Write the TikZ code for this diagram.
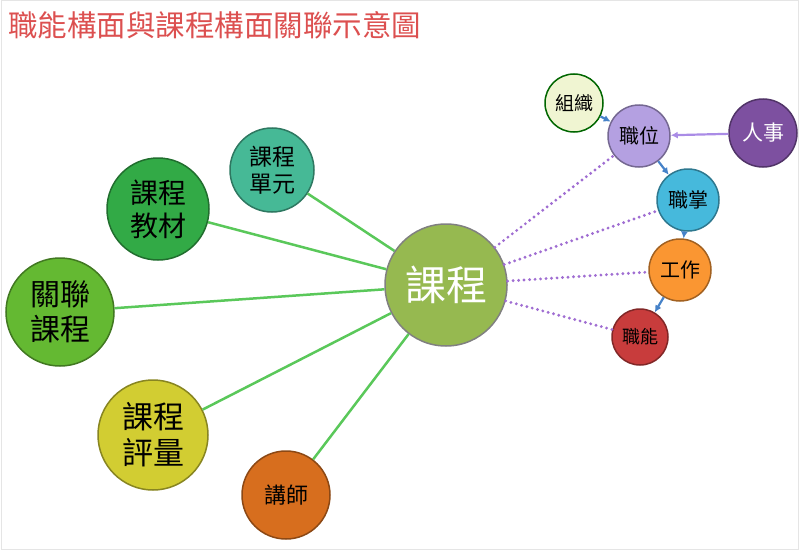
\documentclass[tikz,border=0pt]{standalone}
\usepackage{fontspec}
\newfontfamily\cjk{Noto Sans CJK TC}
\usetikzlibrary{arrows.meta}

\definecolor{titlered}{RGB}{220,80,80}
\definecolor{kecheng}{RGB}{150,185,80}
\definecolor{danyuan}{RGB}{70,185,150}
\definecolor{jiaocai}{RGB}{50,170,70}
\definecolor{guanlian}{RGB}{100,185,50}
\definecolor{pingliang}{RGB}{210,205,50}
\definecolor{jiangshi}{RGB}{215,110,30}
\definecolor{zuzhi}{RGB}{240,245,210}
\definecolor{zhiwei}{RGB}{180,160,225}
\definecolor{renshi}{RGB}{125,80,160}
\definecolor{zhizhang}{RGB}{70,185,220}
\definecolor{gongzuo}{RGB}{250,150,50}
\definecolor{zhineng}{RGB}{200,60,60}
\definecolor{linkgreen}{RGB}{90,200,90}
\definecolor{linkpurple}{RGB}{160,110,210}
\definecolor{flowblue}{RGB}{70,130,200}
\definecolor{flowlilac}{RGB}{170,140,230}

\tikzset{ball/.style={circle, fill=#1, draw=#1!65!black, line width=1.5pt}}

\begin{document}
\begin{tikzpicture}[x=1pt,y=-1pt]
\tikzstyle{every node}+=[inner sep=0pt, align=center]
\tikzstyle{link}=[linkgreen, line width=2.5pt]
\tikzstyle{dots}=[linkpurple, line width=3.2pt, line cap=round, dash pattern=on 0pt off 5.5pt]
\tikzstyle{flow}=[flowblue, line width=2.2pt, -{Latex[length=7pt,width=7pt]}]
\useasboundingbox (0,0) rectangle (800,551);
\draw [gray!20, line width=1pt] (1,1) rectangle (798,549);
\node [anchor=west, text=titlered, font=\cjk\fontsize{29.5}{32}\selectfont] (title) at (8,25) {職能構面與課程構面關聯示意圖};
% course side
\node [ball=kecheng, draw=gray, minimum size=122pt, text=white, font=\cjk\fontsize{41}{44}\selectfont] (kc) at (446,285) {課程};
\node [ball=danyuan, minimum size=84pt, font=\cjk\fontsize{23}{27}\selectfont] (dy) at (272,170) {課程\\單元};
\node [ball=jiaocai, minimum size=102pt, font=\cjk\fontsize{28}{33}\selectfont] (jc) at (158,209) {課程\\教材};
\node [ball=guanlian, minimum size=108pt, font=\cjk\fontsize{30}{35}\selectfont] (gl) at (60,312) {關聯\\課程};
\node [ball=pingliang, minimum size=110pt, font=\cjk\fontsize{31}{36}\selectfont] (pl) at (153,435) {課程\\評量};
\node [ball=jiangshi, minimum size=88pt, font=\cjk\fontsize{22}{26}\selectfont] (js) at (286,495) {講師};
\draw [link] (dy) -- (kc);
\draw [link] (jc) -- (kc);
\draw [link] (gl) -- (kc);
\draw [link] (pl) -- (kc);
\draw [link] (js) -- (kc);
% job side
\node [ball=zuzhi, draw=green!40!black, minimum size=58pt, font=\cjk\fontsize{19}{22}\selectfont] (zz) at (574,103) {組織};
\node [ball=zhiwei, minimum size=62pt, font=\cjk\fontsize{20}{24}\selectfont] (zw) at (639,136) {職位};
\node [ball=renshi, minimum size=68pt, text=white, font=\cjk\fontsize{21}{24}\selectfont] (rs) at (763,133) {人事};
\node [ball=zhizhang, minimum size=62pt, font=\cjk\fontsize{20}{24}\selectfont] (zg) at (688,200) {職掌};
\node [ball=gongzuo, minimum size=62pt, font=\cjk\fontsize{20}{24}\selectfont] (gz) at (680,270) {工作};
\node [ball=zhineng, minimum size=56pt, font=\cjk\fontsize{18}{22}\selectfont] (zn) at (640,337) {職能};
\draw [flow] (zz) -- (zw);
\draw [flow, flowlilac] (rs) -- (zw);
\draw [flow] (zw) -- (zg);
\draw [flow] (zg) -- (gz);
\draw [flow] (gz) -- (zn);
\draw [dots] (kc) -- (zw);
\draw [dots] (kc) -- (zg);
\draw [dots] (kc) -- (gz);
\draw [dots] (kc) -- (zn);
\end{tikzpicture}
\end{document}
